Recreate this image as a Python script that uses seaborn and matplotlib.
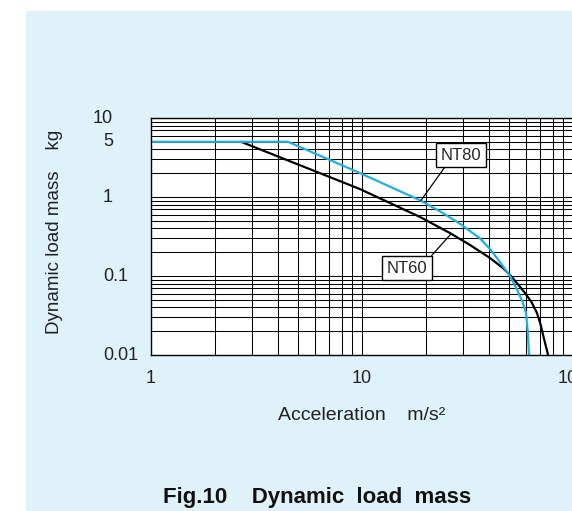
import matplotlib
matplotlib.use("Agg")
import matplotlib.pyplot as plt
import pandas as pd
import seaborn as sns
from matplotlib.patches import Rectangle
import matplotlib.transforms as mtransforms

# values (log-log)
nt80_accel = [1.0, 4.46, 9.78, 18.8, 23.4, 29.1, 36.2, 40.4, 45.1, 50.3, 54.3, 57.5, 59.9, 61.0, 61.9]
nt80_mass = [5.0, 5.0, 2.01, 0.91, 0.66, 0.46, 0.30, 0.22, 0.15, 0.10, 0.067, 0.048, 0.034, 0.02, 0.01]

nt60_accel = [2.67, 9.78, 18.8, 26.1, 32.5, 40.4, 46.6, 50.3, 56.1, 59.2, 63.5, 67.5, 70.0, 72.5, 76.2]
nt60_mass = [5.0, 1.26, 0.56, 0.35, 0.247, 0.169, 0.126, 0.103, 0.073, 0.061, 0.047, 0.034, 0.025, 0.017, 0.01]

ytick_vals = [0.01, 0.1, 1, 5, 10]
ytick_text = ["0.01", "0.1", "1", "5", "10"]
xtick_vals = [1, 10, 100]
xtick_text = ["1", "10", "100"]

df = pd.concat([
    pd.DataFrame({"accel": nt80_accel, "mass": nt80_mass, "series": "NT80"}),
    pd.DataFrame({"accel": nt60_accel, "mass": nt60_mass, "series": "NT60"}),
])

sns.set_style("white")
plt.rcParams["font.family"] = ["Liberation Sans", "DejaVu Sans"]

W, H = 572, 511
fig = plt.figure(figsize=(W / 100, H / 100), dpi=100)
fig.patch.set_facecolor("white")

# light blue panel behind everything
fig.patches.append(Rectangle((26 / W, 0), 1 - 26 / W, 1 - 11 / H,
                             transform=fig.transFigure, facecolor="#DFF1F9",
                             edgecolor="none", zorder=-10))

ax = fig.add_axes([151 / W, (H - 355) / H, (573 - 151) / W, (355 - 118) / H])
ax.set_facecolor("white")
ax.set_xscale("log")
ax.set_yscale("log")
ax.set_xlim(1, 100)
ax.set_ylim(0.01, 10)

ax.grid(True, which="both", color="black", linewidth=0.75)
ax.set_axisbelow(True)

sns.lineplot(data=df, x="accel", y="mass", hue="series",
             palette={"NT80": "#1DB0E6", "NT60": "black"},
             hue_order=["NT60", "NT80"],
             sort=False, estimator=None, legend=False,
             linewidth=1.6, ax=ax)

for s in ax.spines.values():
    s.set_color("black")
    s.set_linewidth(1.0)

ax.set_xticks(xtick_vals)
ax.set_xticklabels(xtick_text)
ax.tick_params(axis="x", which="both", length=0, pad=11, labelsize=13, colors="#222222")
ax.set_yticks(ytick_vals)
ax.set_yticklabels([])
ax.tick_params(axis="y", which="both", length=0)
ax.set_xlabel("")
ax.set_ylabel("")

# y tick labels placed by hand (reference aligns them oddly)
trans = mtransforms.blended_transform_factory(ax.transAxes, ax.transData)
for v, t in zip(ytick_vals, ytick_text):
    xpos = (93 - 151) / 422 if t == "10" else (103 - 151) / 422
    ax.text(xpos, v, t, transform=trans, ha="left", va="center",
            fontsize=13, color="#222222", clip_on=False)

# labels on the curves
box = dict(boxstyle="square,pad=0.28", facecolor="white", edgecolor="black", linewidth=1.0)
ax.annotate("NT80", xy=(19.0, 0.9), xytext=(29.5, 3.4), ha="center", va="center",
            fontsize=12, bbox=box,
            arrowprops=dict(arrowstyle="-", color="black", lw=0.9,
                            relpos=(0.18, 0.0), shrinkA=0, shrinkB=0))
ax.annotate("NT60", xy=(26.4, 0.34), xytext=(16.3, 0.126), ha="center", va="center",
            fontsize=12, bbox=box,
            arrowprops=dict(arrowstyle="-", color="black", lw=0.9,
                            relpos=(1.0, 1.0), shrinkA=0, shrinkB=0))

fig.text(361.5 / W, 1 - 415 / H, "Acceleration    m/s²", ha="center", va="center",
         fontsize=14, color="#222222")
fig.text(55 / W, 1 - 232 / H, "Dynamic load mass    kg", ha="center", va="center",
         rotation=90, fontsize=13.5, color="#222222")
fig.text(317.5 / W, 1 - 503 / H, "Fig.10    Dynamic  load  mass", ha="center",
         va="baseline", fontsize=16, fontweight="bold", color="#111111")

fig.savefig("out.png", dpi=100)
